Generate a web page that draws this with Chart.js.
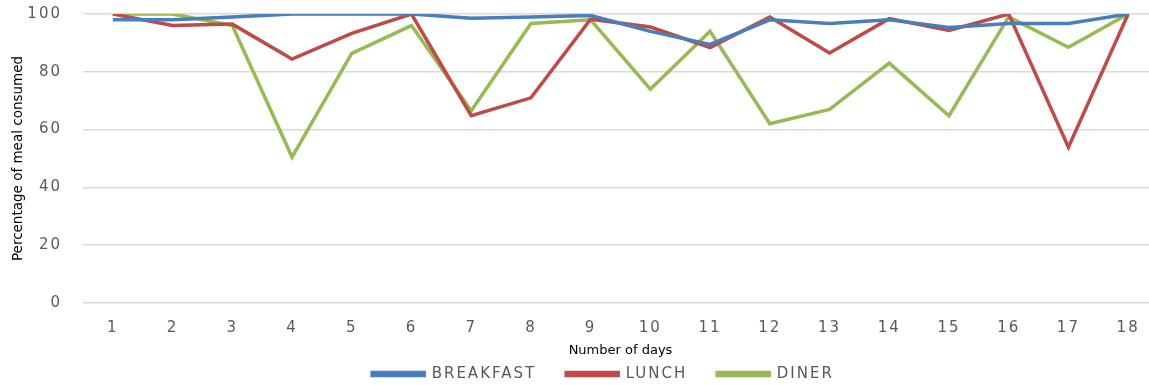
<!DOCTYPE html>
<html>
<head>
<meta charset="utf-8">
<script src="https://cdn.jsdelivr.net/npm/chart.js@4.4.0/dist/chart.umd.min.js"></script>
<style>
  html, body { margin: 0; padding: 0; background: #fff; overflow: hidden; }
  #wrap { position: relative; width: 1158px; height: 385px; }
</style>
</head>
<body>
<div id="wrap"><canvas id="mealChart"></canvas></div>
<script>
const days = ['1', '2', '3', '4', '5', '6', '7', '8', '9', '10', '11', '12', '13', '14', '15', '16', '17', '18'];
const breakfast = [98, 98, 99, 100, 100, 100, 98.5, 99, 99.5, 94, 89.5, 98, 96.7, 98, 95.3, 96.7, 96.7, 100];
const lunch = [100, 96, 96.5, 84.4, 93.3, 100, 64.8, 71, 98.2, 95.5, 88.4, 99, 86.5, 98.4, 94.3, 100, 53.9, 100];
const diner = [100, 100, 96, 50.5, 86.4, 96, 66.5, 96.7, 98, 74, 94, 62, 67, 83, 64.8, 99, 88.5, 100];
const yTicks = [0, 20, 40, 60, 80, 100];

const seriesNames = ['BREAKFAST', 'LUNCH', 'DINER'];
const seriesColors = ['#4a7ebb', '#be4b48', '#98b954'];

const tickGrey = '#595959';
const spacedFont = 'DejaVu Sans';

// canvas letter spacing for ticks / legend, axis titles stay plain
const spacingPlugin = {
    id: 'spacing',
    beforeUpdate(chart) { chart.ctx.letterSpacing = '2px'; },
    beforeDraw(chart) { chart.ctx.letterSpacing = '2px'; },
    afterLayout(chart) {
        chart.legend.left += 48;
        chart.legend.top += 2;
        Object.values(chart.scales).forEach(s => {
            if (s._plainTitle) return;
            const orig = s.drawTitle;
            s.drawTitle = function() {
                const c = this.ctx;
                c.save();
                c.letterSpacing = '0px';
                orig.call(this);
                c.restore();
            };
            s._plainTitle = true;
        });
    }
};

function makeDataset(i, values) {
    return {
        label: seriesNames[i],
        data: values,
        borderColor: seriesColors[i],
        backgroundColor: seriesColors[i],
        borderWidth: 3.5,
        pointRadius: 0,
        pointHoverRadius: 0,
        tension: 0
    };
}

const ctx = document.getElementById('mealChart').getContext('2d');
const mealChart = new Chart(ctx, {
    type: 'line',
    data: {
        labels: days,
        datasets: [
            makeDataset(0, breakfast),
            makeDataset(1, lunch),
            makeDataset(2, diner)
        ]
    },
    options: {
        responsive: true,
        maintainAspectRatio: false,
        animation: false,
        layout: { padding: { top: 14, left: 0, right: 0, bottom: 0 } },
        plugins: {
            tooltip: { enabled: false },
            legend: {
                position: 'bottom',
                maxHeight: 50.5,
                labels: {
                    boxWidth: 52,
                    boxHeight: 3,
                    padding: 30,
                    color: tickGrey,
                    font: { family: spacedFont, size: 15 }
                }
            }
        },
        scales: {
            x: {
                offset: true,
                grid: { display: false, drawTicks: false },
                border: { display: false },
                ticks: {
                    color: tickGrey,
                    font: { family: spacedFont, size: 15 },
                    padding: 16,
                    maxRotation: 0,
                    autoSkip: false
                },
                title: {
                    display: true,
                    text: 'Number of days',
                    color: '#000',
                    font: { family: spacedFont, size: 13 },
                    padding: { top: 0, bottom: -24 }
                },
                afterFit(scale) {
                    scale.height = 31.5;
                    scale.paddingTop = 0;
                    scale.paddingBottom = 0;
                }
            },
            y: {
                min: 0,
                max: 100,
                grid: { color: '#d9d9d9', lineWidth: 1.5, drawTicks: false },
                border: { display: false },
                afterBuildTicks(scale) { scale.ticks = yTicks.map(v => ({ value: v })); },
                ticks: {
                    color: tickGrey,
                    font: { family: spacedFont, size: 15 },
                    padding: 21
                },
                title: {
                    display: true,
                    text: 'Percentage of meal consumed',
                    color: '#000',
                    font: { family: spacedFont, size: 13.5 },
                    padding: { top: 10, bottom: 0 }
                },
                afterFit(scale) {
                    scale.width = 83;
                    scale.paddingTop = 0;
                    scale.paddingBottom = 0;
                }
            }
        }
    },
    plugins: [spacingPlugin]
});
</script>
</body>
</html>
